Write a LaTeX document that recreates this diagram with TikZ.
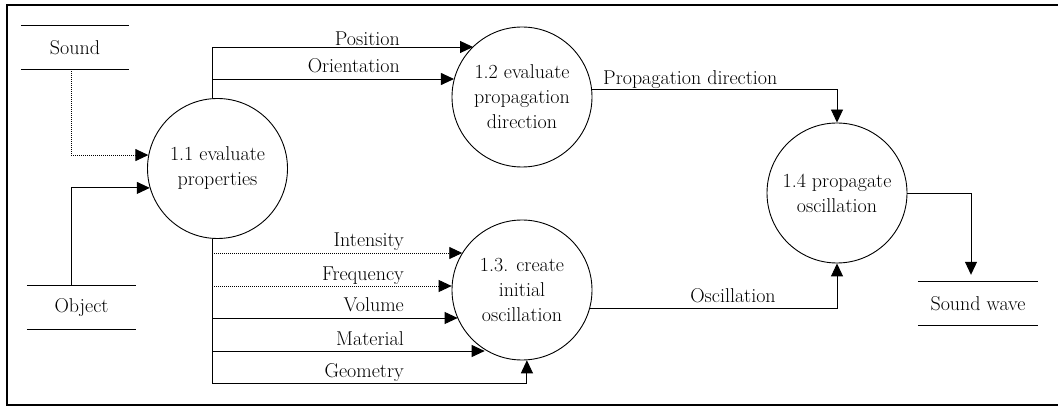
\documentclass[tikz,border=0pt]{standalone}
\usepackage{fontspec}
\usetikzlibrary{arrows.meta}
\begin{document}
\begin{tikzpicture}[x=1pt,y=-1pt,
  every node/.style={font=\fontsize{20}{25}\selectfont},
  process/.style={draw,circle,line width=0.9pt,minimum size=140pt,inner sep=0pt,align=center},
  store/.style={minimum height=43pt,inner sep=0pt},
  flow/.style={line width=0.9pt,-{Triangle[length=13pt,width=12pt]}},
  trunk/.style={line width=0.9pt},
  dots/.style={dash pattern=on 1pt off 1pt},
  lbl/.style={anchor=base east,inner sep=0pt}]
\useasboundingbox (0,0) rectangle (1058,406);

% outer frame
\draw[line width=2pt] (1062,5) -- (7,5) -- (7,405) -- (1062,405);

% processes
\node[process] (c11) at (217.5,168.5) {1.1 evaluate\\properties};
\node[process] (c12) at (522,97) {1.2 evaluate\\propagation\\direction};
\node[process] (c13) at (522,290) {1.3. create\\initial\\oscillation};
\node[process] (c14) at (837,193) {1.4 propagate\\oscillation};

% data stores
\node[store,minimum width=108pt] (sound) at (75,47.5) {Sound};
\node[store,minimum width=109pt] (obj) at (81.5,307.5) {Object};
\node[store,minimum width=120pt] (sw) at (978,303.5) {Sound wave};
\foreach \s in {sound,obj,sw}{
  \draw[line width=0.9pt] (\s.north west) -- (\s.north east);
  \draw[line width=0.9pt] (\s.south west) -- (\s.south east);
}

% inputs of 1.1
\draw[flow,dots] ([xshift=-4pt]sound.south) |- (c11.169);
\draw[flow] ([xshift=-10.5pt]obj.north) |- (c11.196);

% 1.1 -> 1.2
\coordinate (t1) at (212,47);
\coordinate (t2) at (212,79);
\draw[trunk] (t1 |- c11.north) -- (t1);
\draw[flow] (t1) -- (t1 -| c12.134);
\draw[flow] (t2) -- (t2 -| c12.165);
\node[lbl] at (400,46) {Position};
\node[lbl] at (400,73) {Orientation};

% 1.1 -> 1.3
\coordinate (b0) at (212,383);
\coordinate (b1) at (212,253);
\coordinate (b2) at (212,286);
\coordinate (b3) at (212,318);
\coordinate (b4) at (212,351);
\draw[trunk] (b0 |- c11.south) -- (b0);
\draw[flow,dots] (b1) -- (b1 -| c13.148);
\draw[flow,dots] (b2) -- (b2 -| c13.177);
\draw[flow] (b3) -- (b3 -| c13.204);
\draw[flow] (b4) -- (b4 -| c13.238);
\draw[flow] (b0) -| (c13.274);
\node[lbl] at (404,247) {Intensity};
\node[lbl] at (404,280) {Frequency};
\node[lbl] at (404,312) {Volume};
\node[lbl] at (404,345) {Material};
\node[lbl] at (404,377) {Geometry};

% 1.2 / 1.3 -> 1.4
\draw[flow] (c12.6) -| (c14.north);
\node[anchor=base west,inner sep=0pt] at (603,85) {Propagation direction};
\draw[flow] (c13.345) -| (c14.south);
\node[anchor=base,inner sep=0pt] at (733,302) {Oscillation};

% 1.4 -> Sound wave
\draw[flow] (c14.east) -| ([xshift=-7pt,yshift=7pt]sw.north);
\end{tikzpicture}
\end{document}
